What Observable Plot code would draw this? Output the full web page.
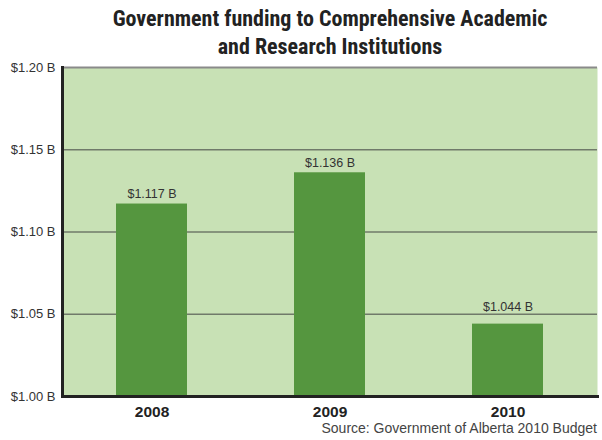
<!DOCTYPE html>
<html>
<head>
<meta charset="utf-8">
<script src="https://cdn.jsdelivr.net/npm/d3@7"></script>
<script src="https://cdn.jsdelivr.net/npm/@observablehq/plot@0.6"></script>
<style>
  body { margin: 0; background: #fff; }
  #wrap { position: relative; width: 602px; height: 440px; overflow: hidden; }
  #title { position: absolute; left: 62px; width: 536px; top: 5px; text-align: center;
    font-family: "Liberation Sans Narrow", "Roboto Condensed", "DejaVu Sans Condensed", sans-serif;
    font-weight: bold; font-size: 22px; line-height: 28px; color: #222; }
  #source { position: absolute; right: 5px; top: 420px; font-family: "Liberation Sans", Arial, sans-serif;
    font-size: 14px; color: #444; white-space: nowrap; }
  #chart { position: absolute; left: 0; top: 0; }
</style>
</head>
<body>
<div id="wrap">
  <div id="chart"></div>
  <div id="title">Government funding to Comprehensive Academic<br>and Research Institutions</div>
  <div id="source">Source: Government of Alberta 2010 Budget</div>
</div>
<script>
const years = ["2008", "2009", "2010"];
const values = [1.117, 1.136, 1.044];
const yTicks = [1.00, 1.05, 1.10, 1.15, 1.20];
const gridTicks = [1.05, 1.10, 1.15];

const data = years.map((y, i) => ({year: y, value: values[i]}));
// labels that would collide with a gridline sit just above that gridline
const gridAbove = v => gridTicks.find(g => g > v && g - v < 0.008);
const freeLabels = data.filter(d => gridAbove(d.value) === undefined);
const liftedLabels = data.filter(d => gridAbove(d.value) !== undefined);
const fmt = d => `$${d.value.toFixed(3)} B`;

const chart = Plot.plot({
  width: 602,
  height: 440,
  marginTop: 67,
  marginBottom: 44,
  marginLeft: 62,
  marginRight: 5,
  style: {fontFamily: "'Liberation Sans', Arial, sans-serif", fontSize: "12px", color: "#333", background: "transparent"},
  x: {domain: years, paddingInner: 0.6, paddingOuter: 0.3, label: null},
  y: {domain: [1.0, 1.2], label: null},
  marks: [
    Plot.frame({fill: "#c8e1b5", stroke: null}),
    Plot.ruleY(gridTicks, {stroke: "#707a6a", strokeWidth: 1.5}),
    Plot.ruleY([1.2], {stroke: "#8a8a8a", strokeWidth: 2}),
    Plot.barY(data, {x: "year", y1: () => 1.0, y2: "value", fill: "#55963f"}),
    Plot.text(freeLabels, {x: "year", y: "value", text: fmt,
      lineAnchor: "bottom", dy: -6, fontSize: 12.5, fill: "#333"}),
    Plot.text(liftedLabels, {x: "year", y: d => gridAbove(d.value), text: fmt,
      lineAnchor: "bottom", dy: -3, fontSize: 12.5, fill: "#333"}),
    Plot.axisY({ticks: yTicks, tickSize: 0, tickPadding: 7, tickFormat: d => `$${d.toFixed(2)} B`, label: null, fontSize: 13, fill: "#333"}),
    Plot.axisX({tickSize: 0, tickPadding: 9, label: null, fontSize: 15.5, fontWeight: "bold", fill: "#222"}),
    Plot.frame({anchor: "left", stroke: "#222", strokeWidth: 3}),
    Plot.frame({anchor: "bottom", stroke: "#222", strokeWidth: 3})
  ]
});
document.getElementById("chart").appendChild(chart);
</script>
</body>
</html>
